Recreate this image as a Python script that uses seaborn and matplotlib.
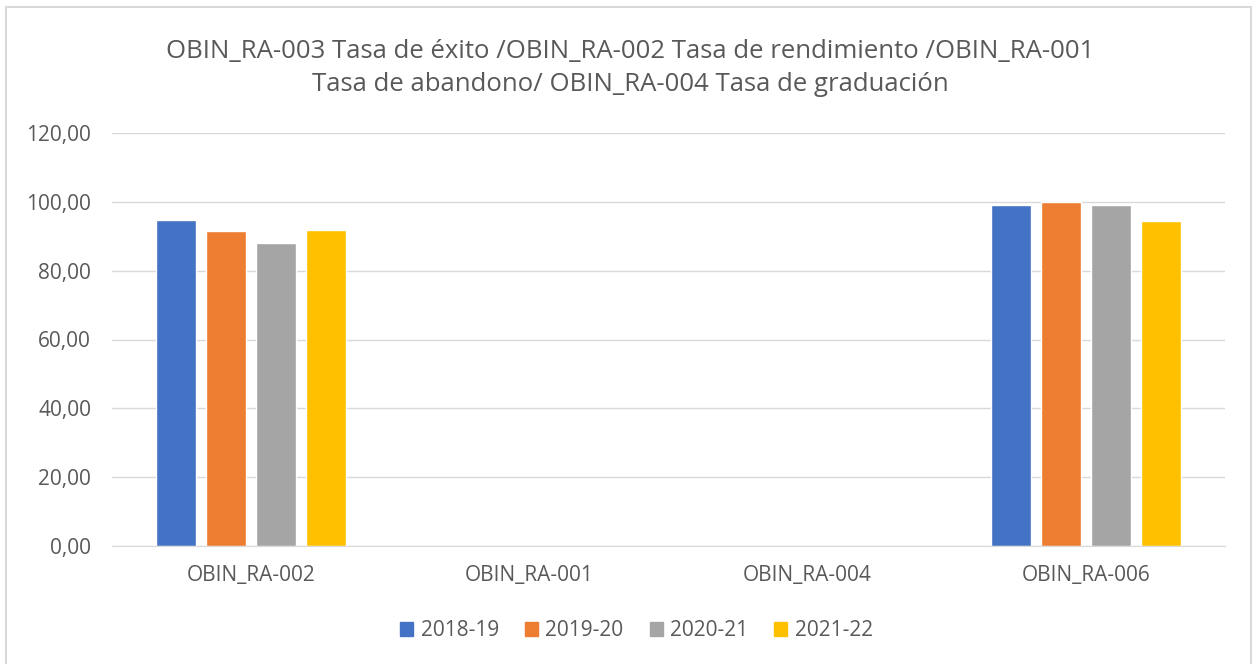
import numpy as np
import pandas as pd
import seaborn as sns
import matplotlib.pyplot as plt
from matplotlib.ticker import FuncFormatter
from matplotlib.patches import Rectangle

## Data
categories = ["OBIN_RA-002", "OBIN_RA-001", "OBIN_RA-004", "OBIN_RA-006"]
years = ["2018-19", "2019-20", "2020-21", "2021-22"]
v_2018 = [94.6, np.nan, np.nan, 99.2]
v_2019 = [91.4, np.nan, np.nan, 100.0]
v_2020 = [88.0, np.nan, np.nan, 99.1]
v_2021 = [91.9, np.nan, np.nan, 94.3]
colors = ["#4472C4", "#ED7D31", "#A5A5A5", "#FFC000"]

df = pd.DataFrame({"cat": categories * 4,
                   "year": np.repeat(years, 4),
                   "value": v_2018 + v_2019 + v_2020 + v_2021})

sns.set_style("white")
plt.rcParams["font.family"] = ["Open Sans", "DejaVu Sans"]
grey = "#595959"

fig = plt.figure(figsize=(12.53, 6.64), dpi=100)
ax = fig.add_axes([112 / 1253, 1 - 546 / 664, (1225 - 112) / 1253, (546 - 133) / 664])

sns.barplot(data=df, x="cat", y="value", hue="year", palette=colors,
            width=0.72, gap=0.2, order=categories, hue_order=years,
            errorbar=None, ax=ax, legend=False, saturation=1)

ax.set_ylim(0, 120)
ax.set_yticks(range(0, 121, 20))
ax.set_xlim(-0.5, 3.5)
ax.yaxis.set_major_formatter(FuncFormatter(lambda v, p: f"{v:.2f}".replace(".", ",")))
ax.grid(axis="y", color="#d9d9d9", lw=1)
ax.set_axisbelow(True)
for s in ["top", "right", "left"]:
    ax.spines[s].set_visible(False)
ax.spines["bottom"].set_color("#d9d9d9")
ax.tick_params(axis="both", length=0, labelsize=15, colors=grey)
ax.tick_params(axis="y", pad=15)
ax.tick_params(axis="x", pad=14)
ax.set_xlabel("")
ax.set_ylabel("")

fig.text(0.503, 0.898,
         "OBIN_RA-003 Tasa de éxito /OBIN_RA-002 Tasa de rendimiento /OBIN_RA-001\n"
         "Tasa de abandono/ OBIN_RA-004 Tasa de graduación",
         ha="center", va="center", fontsize=18.5, color=grey, linespacing=1.42)

handles = [Rectangle((0, 0), 1, 1, color=c) for c in colors]
fig.legend(handles, years, loc="center", bbox_to_anchor=(0.508, 1 - 631 / 664),
           ncol=4, frameon=False, fontsize=15, handlelength=0.63, handleheight=0.63,
           handletextpad=0.35, columnspacing=1.25, labelcolor=grey)

fig.patches.append(Rectangle((0.005, -0.01), 0.9935, 0.9995, transform=fig.transFigure,
                             fill=False, edgecolor="#d9d9d9", lw=1.5))

fig.savefig("out.png", dpi=100)
